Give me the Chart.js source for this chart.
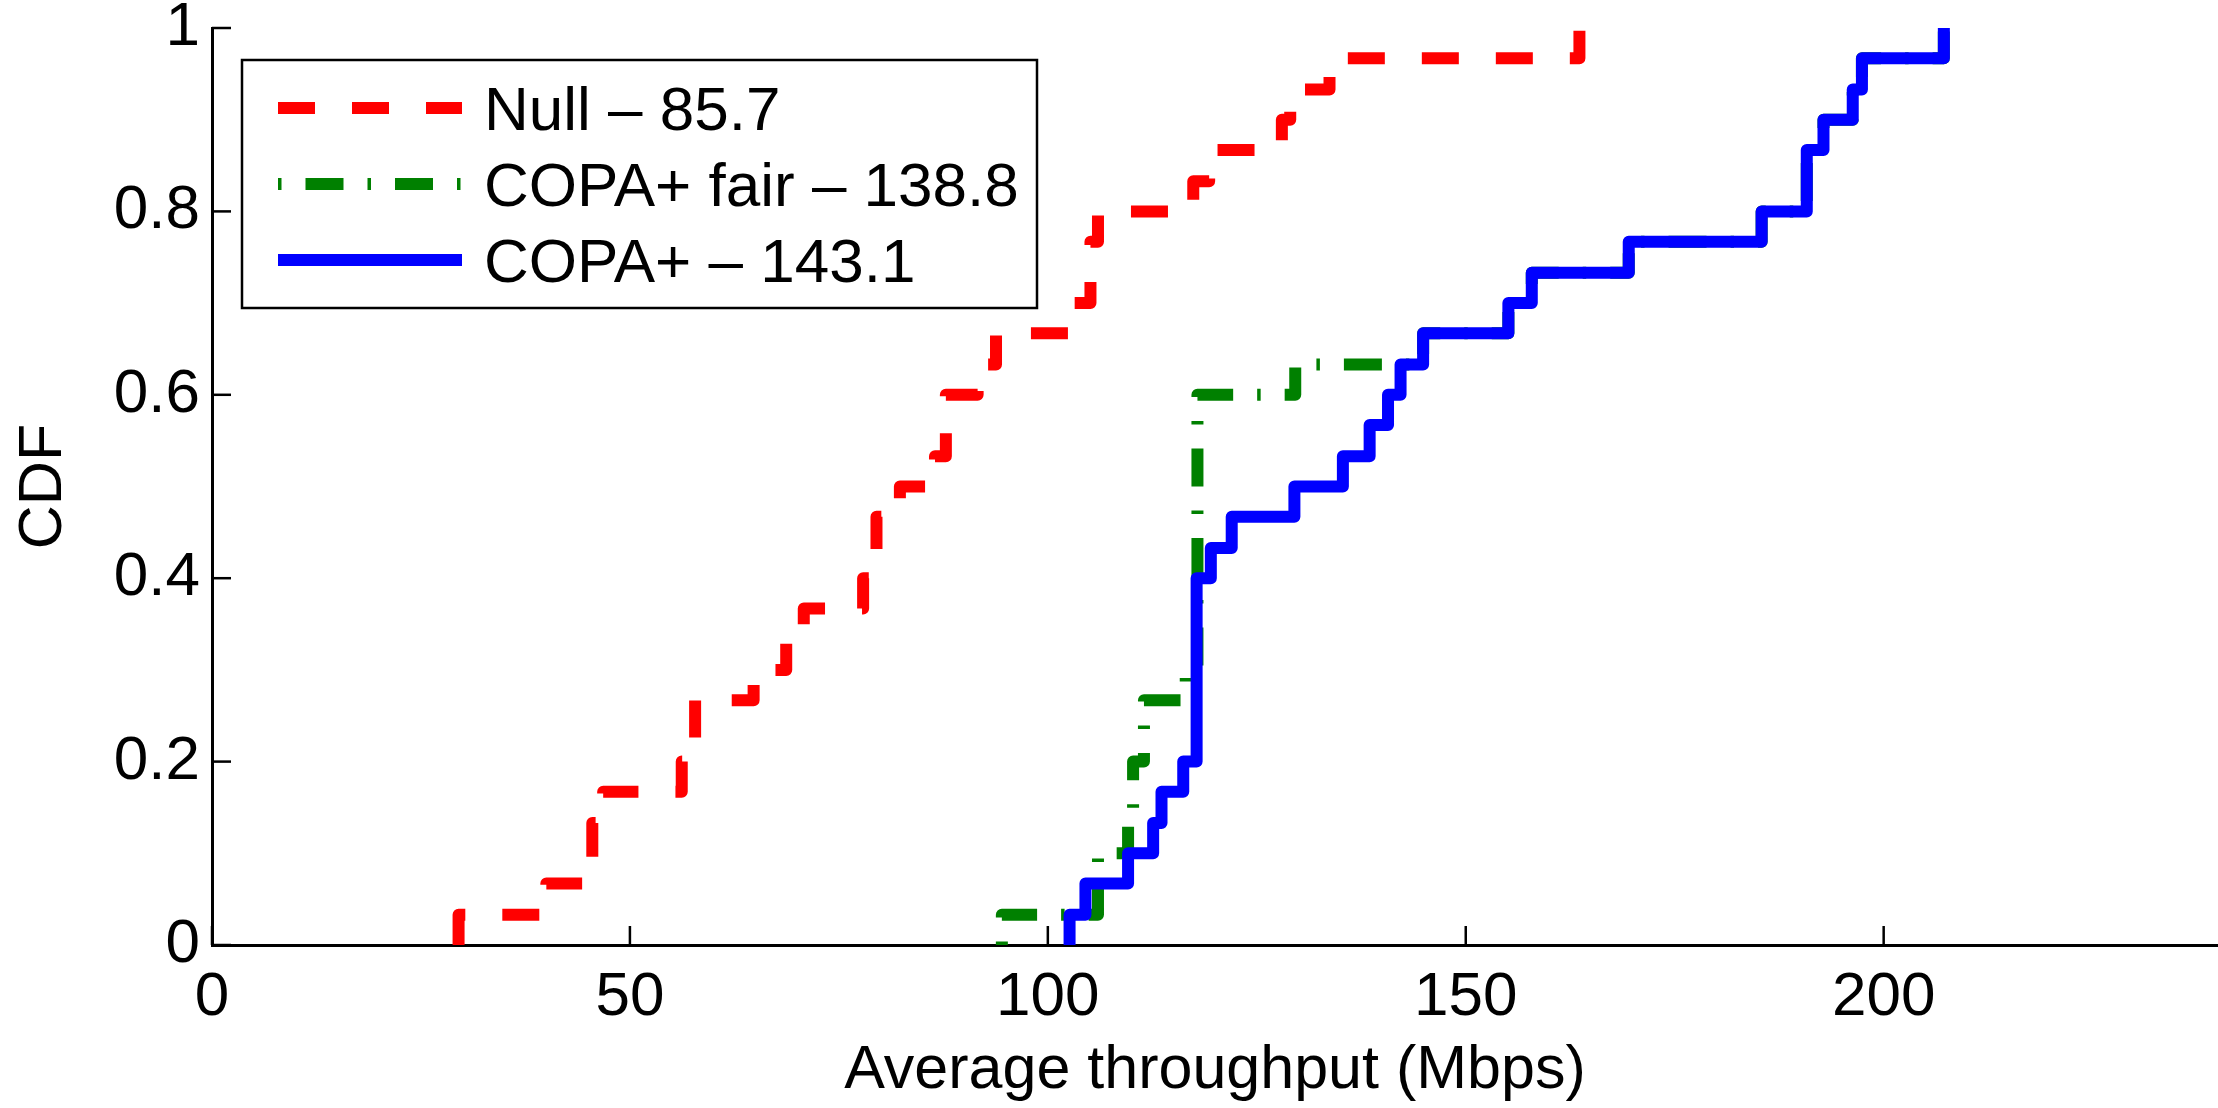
<!DOCTYPE html>
<html>
<head>
<meta charset="utf-8">
<script src="https://cdn.jsdelivr.net/npm/chart.js@4.4.1/dist/chart.umd.min.js"></script>
<style>
  body { margin: 0; background: #fff; }
</style>
</head>
<body>
<canvas id="cdf" width="2218" height="1108"></canvas>
<script>
// legend names (mean throughput in the label)
const seriesNames = ["Null \u2013 85.7", "COPA+ fair \u2013 138.8", "COPA+ \u2013 143.1"];

// CDF steps: throughput where the step happens, and CDF level after it
const nullX = [29.5, 29.5, 40.0, 45.5, 46.8, 56.2, 57.8, 64.8, 68.7, 70.8, 77.9, 79.5, 82.3,
               86.5, 87.8, 91.6, 93.8, 102.5, 105.1, 106.0, 117.4, 119.3, 128.0, 129.0, 133.7, 163.6];
const nullY = [0, 0.033, 0.067, 0.133, 0.167, 0.2, 0.267, 0.3, 0.333, 0.367, 0.4, 0.467, 0.5,
               0.533, 0.6, 0.633, 0.667, 0.7, 0.767, 0.8, 0.833, 0.867, 0.9, 0.933, 0.967, 1.0];

const fairX = [94.5, 94.5, 106.0, 109.6, 110.2, 111.5, 116.5, 117.9, 129.6, 144.9, 155.1,
               157.9, 169.5, 185.4, 190.8, 192.8, 196.3, 197.4, 207.2];
const fairY = [0, 0.033, 0.1, 0.133, 0.2, 0.267, 0.3, 0.6, 0.633, 0.667, 0.7,
               0.733, 0.767, 0.8, 0.867, 0.9, 0.933, 0.967, 1.0];

const copaX = [102.6, 102.6, 104.5, 109.6, 112.6, 113.6, 116.2, 117.8, 119.5, 122.0, 129.5,
               135.3, 138.5, 140.7, 142.2, 144.9, 155.1, 157.9, 169.5, 185.4, 190.8, 192.8,
               196.3, 197.4, 207.2];
const copaY = [0, 0.033, 0.067, 0.1, 0.133, 0.167, 0.2, 0.4, 0.433, 0.467, 0.5,
               0.533, 0.567, 0.6, 0.633, 0.667, 0.7, 0.733, 0.767, 0.8, 0.867, 0.9,
               0.933, 0.967, 1.0];

const xTicks = [0, 50, 100, 150, 200];
const yTicks = [0, 0.2, 0.4, 0.6, 0.8, 1];
const yTickLabels = ["0", "0.2", "0.4", "0.6", "0.8", "1"];

const colors = ["#ff0000", "#008000", "#0000ff"];
const dashes = [[37, 37], [3.5, 24, 38, 24], []];

function points(xs, ys) {
    return xs.map((x, i) => ({ x: x, y: ys[i] }));
}

const FONT = '"Liberation Sans", Arial, Helvetica, sans-serif';
Chart.defaults.font.family = FONT;
Chart.defaults.color = "#000";

// MATLAB style ticks pointing into the plot
const inwardTicks = {
    id: "inwardTicks",
    afterDraw(chart) {
        const { ctx, chartArea, scales } = chart;
        ctx.save();
        ctx.strokeStyle = "#000";
        ctx.lineWidth = 2.5;
        xTicks.forEach((v) => {
            const px = scales.x.getPixelForValue(v);
            ctx.beginPath();
            ctx.moveTo(px, chartArea.bottom);
            ctx.lineTo(px, chartArea.bottom - 19);
            ctx.stroke();
        });
        yTicks.forEach((v) => {
            const py = scales.y.getPixelForValue(v);
            ctx.beginPath();
            ctx.moveTo(chartArea.left, py);
            ctx.lineTo(chartArea.left + 19, py);
            ctx.stroke();
        });
        ctx.restore();
    },
};

// boxed legend in the upper left
const boxLegend = {
    id: "boxLegend",
    afterDraw(chart) {
        const ctx = chart.ctx;
        ctx.save();
        ctx.fillStyle = "#fff";
        ctx.fillRect(242, 60, 795, 248);
        ctx.strokeStyle = "#000";
        ctx.lineWidth = 2.5;
        ctx.strokeRect(242, 60, 795, 248);
        const rows = [108, 184, 260];
        seriesNames.forEach((name, i) => {
            ctx.beginPath();
            ctx.strokeStyle = colors[i];
            ctx.lineWidth = 12;
            ctx.lineCap = "butt";
            ctx.setLineDash(dashes[i]);
            ctx.moveTo(278, rows[i]);
            ctx.lineTo(462, rows[i]);
            ctx.stroke();
            ctx.setLineDash([]);
            ctx.fillStyle = "#000";
            ctx.font = "62px " + FONT;
            ctx.textBaseline = "alphabetic";
            ctx.fillText(name, 484, rows[i] + 22);
        });
        ctx.restore();
    },
};

const seriesX = [nullX, fairX, copaX];
const seriesY = [nullY, fairY, copaY];

new Chart(document.getElementById("cdf"), {
    type: "line",
    data: {
        datasets: seriesNames.map((name, i) => ({
            label: name,
            data: points(seriesX[i], seriesY[i]),
            borderColor: colors[i],
            borderDash: dashes[i],
            borderWidth: 12,
            borderJoinStyle: "round",
            borderCapStyle: "butt",
            stepped: "before",
            pointRadius: 0,
            fill: false,
            order: 3 - i,
        })),
    },
    options: {
        responsive: false,
        animation: false,
        devicePixelRatio: 1,
        layout: { padding: { top: 28, right: 0, left: 0, bottom: 0 } },
        plugins: { legend: { display: false }, tooltip: { enabled: false } },
        scales: {
            x: {
                type: "linear",
                min: 0,
                max: 240,
                grid: { display: false, drawTicks: false },
                border: { display: true, color: "#000", width: 3 },
                afterBuildTicks: (scale) => {
                    scale.ticks = xTicks.map((v) => ({ value: v }));
                },
                afterFit: (scale) => {
                    scale.height = 163;
                    scale.paddingLeft = 0;
                    scale.paddingRight = 0;
                },
                ticks: { padding: 16, font: { size: 62 }, maxRotation: 0, callback: (v) => String(v) },
                title: {
                    display: true,
                    text: "Average throughput (Mbps)",
                    font: { size: 61 },
                    padding: { top: 0, bottom: 0 },
                },
            },
            y: {
                type: "linear",
                min: 0,
                max: 1,
                grid: { display: false, drawTicks: false },
                border: { display: true, color: "#000", width: 3 },
                afterBuildTicks: (scale) => {
                    scale.ticks = yTicks.map((v) => ({ value: v }));
                },
                afterFit: (scale) => {
                    scale.width = 212;
                    scale.paddingTop = 0;
                    scale.paddingBottom = 0;
                },
                ticks: { padding: 12, font: { size: 62 }, callback: (v, i) => yTickLabels[i] },
                title: {
                    display: true,
                    text: "CDF",
                    font: { size: 61 },
                    padding: { top: 8, bottom: 0 },
                },
            },
        },
    },
    plugins: [inwardTicks, boxLegend],
});
</script>
</body>
</html>
